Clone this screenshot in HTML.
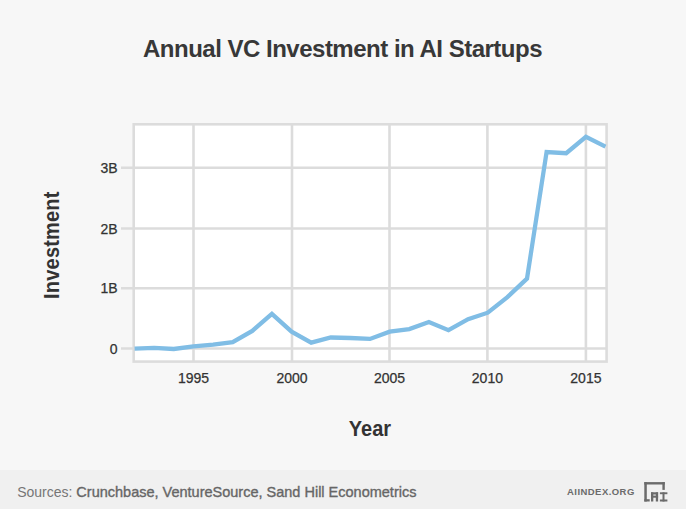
<!DOCTYPE html>
<html><head><meta charset="utf-8">
<style>
html,body{margin:0;padding:0;}
body{width:686px;height:509px;background:#f7f7f7;position:relative;overflow:hidden;font-family:"Liberation Sans",sans-serif;}
svg{position:absolute;left:0;top:0;}
.footer{position:absolute;left:0;top:470px;width:686px;height:39px;background:#f0f0f0;}
</style></head>
<body>
<div class="footer"></div>
<svg width="686" height="509" viewBox="0 0 686 509">
  <defs><clipPath id="cp"><rect x="133.7" y="124.3" width="472.9" height="237.3"/></clipPath></defs>
  <text x="143" y="56.7" font-family="Liberation Sans" font-weight="bold" font-size="24" letter-spacing="-0.5" fill="#383838">Annual VC Investment in AI Startups</text>
  <rect x="133.7" y="124.3" width="472.9" height="237.3" fill="#ffffff"/>
  <g stroke="#dcdcdc" stroke-width="2.6" fill="none">
    <line x1="193.5" y1="124.3" x2="193.5" y2="361.6"/>
    <line x1="292" y1="124.3" x2="292" y2="361.6"/>
    <line x1="389.5" y1="124.3" x2="389.5" y2="361.6"/>
    <line x1="487.4" y1="124.3" x2="487.4" y2="361.6"/>
    <line x1="585.9" y1="124.3" x2="585.9" y2="361.6"/>
    <line x1="121" y1="348.5" x2="606.6" y2="348.5"/>
    <line x1="121" y1="288.3" x2="606.6" y2="288.3"/>
    <line x1="121" y1="228.5" x2="606.6" y2="228.5"/>
    <line x1="121" y1="167.8" x2="606.6" y2="167.8"/>
    <rect x="133.7" y="124.3" width="472.9" height="237.3"/>
  </g>
  <polyline clip-path="url(#cp)" fill="none" stroke="#80bde5" stroke-width="4.3" stroke-linejoin="miter" points="134.6,348.6 154.2,347.8 173.8,349.0 193.5,346.3 213.1,344.6 232.7,342.2 252.3,330.9 271.9,313.9 291.6,331.7 311.2,342.6 330.8,337.5 350.4,338.0 370.0,338.9 389.7,331.7 409.3,329.1 428.9,322.1 448.5,330.2 468.1,319.2 487.8,312.7 507.4,297.1 527.0,278.6 546.6,152.0 566.2,153.2 585.9,136.8 605.5,146.6"/>
  <g font-family="Liberation Sans" font-size="14" fill="#333333" stroke="#333333" stroke-width="0.25" text-anchor="end">
    <text x="117.5" y="353.6">0</text>
    <text x="117.5" y="293.4">1B</text>
    <text x="117.5" y="233.6">2B</text>
    <text x="117.5" y="173.4">3B</text>
  </g>
  <g font-family="Liberation Sans" font-size="14" fill="#333333" stroke="#333333" stroke-width="0.25" text-anchor="middle">
    <text x="193.5" y="382.6">1995</text>
    <text x="292" y="382.6">2000</text>
    <text x="389.5" y="382.6">2005</text>
    <text x="487.4" y="382.6">2010</text>
    <text x="585.9" y="382.6">2015</text>
  </g>
  <text transform="translate(348.8,435.8) scale(1,1.1)" font-family="Liberation Sans" font-weight="bold" font-size="20" fill="#333333">Year</text>
  <text transform="translate(58.6,298.9) rotate(-90) scale(1,1.08)" font-family="Liberation Sans" font-weight="bold" font-size="20" letter-spacing="0.2" fill="#333333">Investment</text>
  <text x="17.2" y="496.7" font-family="Liberation Sans" font-size="14" fill="#767676">Sources: <tspan font-size="14.5" fill="#666666" stroke="#666666" stroke-width="0.35">Crunchbase, VentureSource, Sand Hill Econometrics</tspan></text>
  <text x="567" y="495.2" font-family="Liberation Sans" font-weight="bold" font-size="9.5" letter-spacing="0.45" fill="#6b6b6b">AIINDEX.ORG</text>
  <g fill="#6b6b6b">
    <rect x="644.3" y="482.1" width="2.5" height="19.4"/>
    <rect x="644.3" y="482.1" width="20.5" height="2.4"/>
    <rect x="662.4" y="482.1" width="2.4" height="7.8"/>
    <rect x="644.3" y="499.2" width="5.4" height="2.3"/>
    <rect x="651" y="492.3" width="2.3" height="9.2"/>
    <rect x="655.8" y="492.3" width="2.3" height="9.2"/>
    <rect x="651" y="492.3" width="7.1" height="2.2"/>
    <rect x="651" y="495.6" width="7.1" height="2.1"/>
    <rect x="659.9" y="492.3" width="7.5" height="1.9"/>
    <rect x="662.5" y="492.3" width="2.0" height="9.2"/>
    <rect x="659.9" y="499.5" width="7.5" height="2.0"/>
  </g>
</svg>
</body></html>
